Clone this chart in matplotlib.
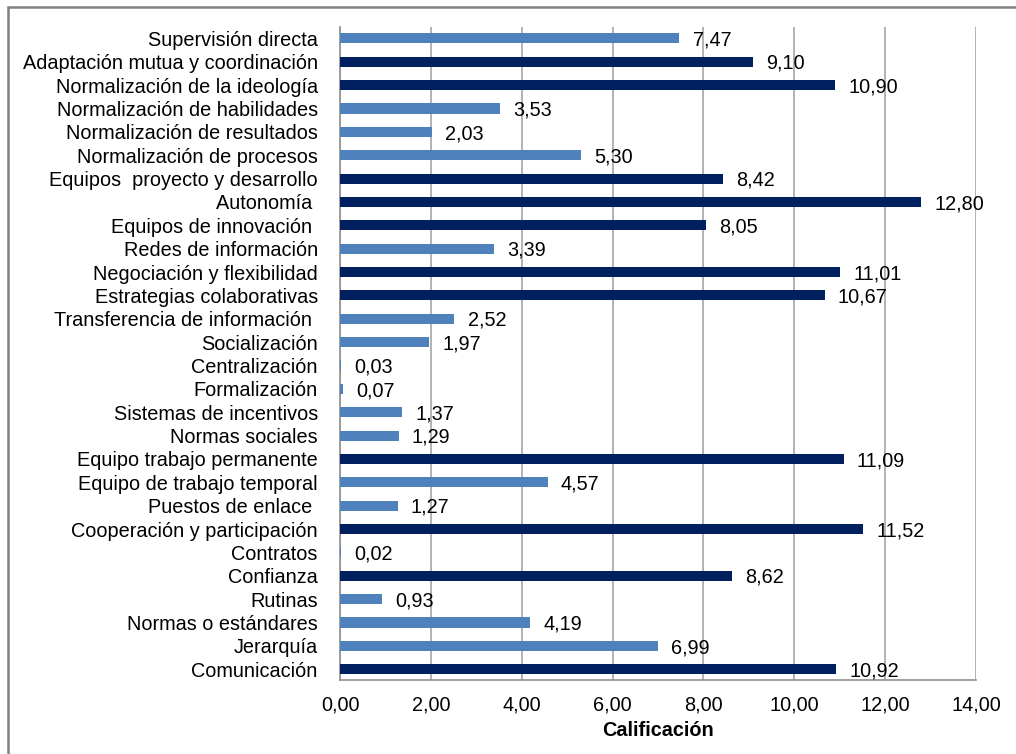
import matplotlib
matplotlib.use("Agg")
import matplotlib.pyplot as plt
from matplotlib.patches import Rectangle

categories = [
    "Supervisión directa", "Adaptación mutua y coordinación", "Normalización de la ideología",
    "Normalización de habilidades", "Normalización de resultados", "Normalización de procesos",
    "Equipos  proyecto y desarrollo", "Autonomía ", "Equipos de innovación ",
    "Redes de información", "Negociación y flexibilidad", "Estrategias colaborativas",
    "Transferencia de información ", "Socialización", "Centralización", "Formalización",
    "Sistemas de incentivos", "Normas sociales", "Equipo trabajo permanente",
    "Equipo de trabajo temporal", "Puestos de enlace ", "Cooperación y participación",
    "Contratos", "Confianza", "Rutinas", "Normas o estándares", "Jerarquía", "Comunicación",
]
values = [7.47, 9.10, 10.90, 3.53, 2.03, 5.30, 8.42, 12.80, 8.05, 3.39, 11.01, 10.67,
          2.52, 1.97, 0.03, 0.07, 1.37, 1.29, 11.09, 4.57, 1.27, 11.52, 0.02, 8.62,
          0.93, 4.19, 6.99, 10.92]
group = ["bajo", "alto", "alto", "bajo", "bajo", "bajo", "alto", "alto", "alto", "bajo",
         "alto", "alto", "bajo", "bajo", "bajo", "bajo", "bajo", "bajo", "alto", "bajo",
         "bajo", "alto", "bajo", "alto", "bajo", "bajo", "bajo", "alto"]
xticks = [0, 2, 4, 6, 8, 10, 12, 14]
xlabel = "Calificación"

colors = {"bajo": "#4F81BD", "alto": "#002060"}

plt.rcParams["font.family"] = ["Liberation Sans", "DejaVu Sans"]
fs = 14.3

fig = plt.figure(figsize=(10.16, 7.54), dpi=100)
ax = fig.add_axes([340 / 1016, 1 - 680 / 754, 636 / 1016, (680 - 26.7) / 754])

n = len(categories)
ypos = [n - 1 - i for i in range(n)]
ax.barh(ypos, values, height=0.43, color=[colors[g] for g in group], zorder=3)

for y, v in zip(ypos, values):
    ax.annotate(f"{v:.2f}".replace(".", ","), (v, y), xytext=(9.5, -1.2),
                textcoords="offset points", va="center", ha="left",
                fontsize=fs, color="black", zorder=4)

ax.set_xlim(0, 14)
ax.set_ylim(-0.46, n - 0.5)
ax.set_yticks(ypos)
ax.set_yticklabels(categories, fontsize=fs)
ax.set_xticks(xticks)
ax.set_xticklabels([f"{t:.2f}".replace(".", ",") for t in xticks], fontsize=fs)
ax.tick_params(axis="y", length=0, pad=16)
ax.tick_params(axis="x", length=0, pad=11)
ax.set_xlabel(xlabel, fontsize=fs, fontweight="bold", labelpad=5)

ax.grid(axis="x", color="#A6A6A6", linewidth=1.2, zorder=0)
ax.set_axisbelow(True)
for s in ["top", "right"]:
    ax.spines[s].set_visible(False)
for s in ["left", "bottom"]:
    ax.spines[s].set_color("#909090")
    ax.spines[s].set_linewidth(1.2)

fig.patches.append(Rectangle((8 / 1016, -0.05), 1.1, 1 - 7 / 754 + 0.05,
                             transform=fig.transFigure, fill=False,
                             edgecolor="#808080", linewidth=1.8, zorder=0))

fig.savefig("out.png", dpi=100)
